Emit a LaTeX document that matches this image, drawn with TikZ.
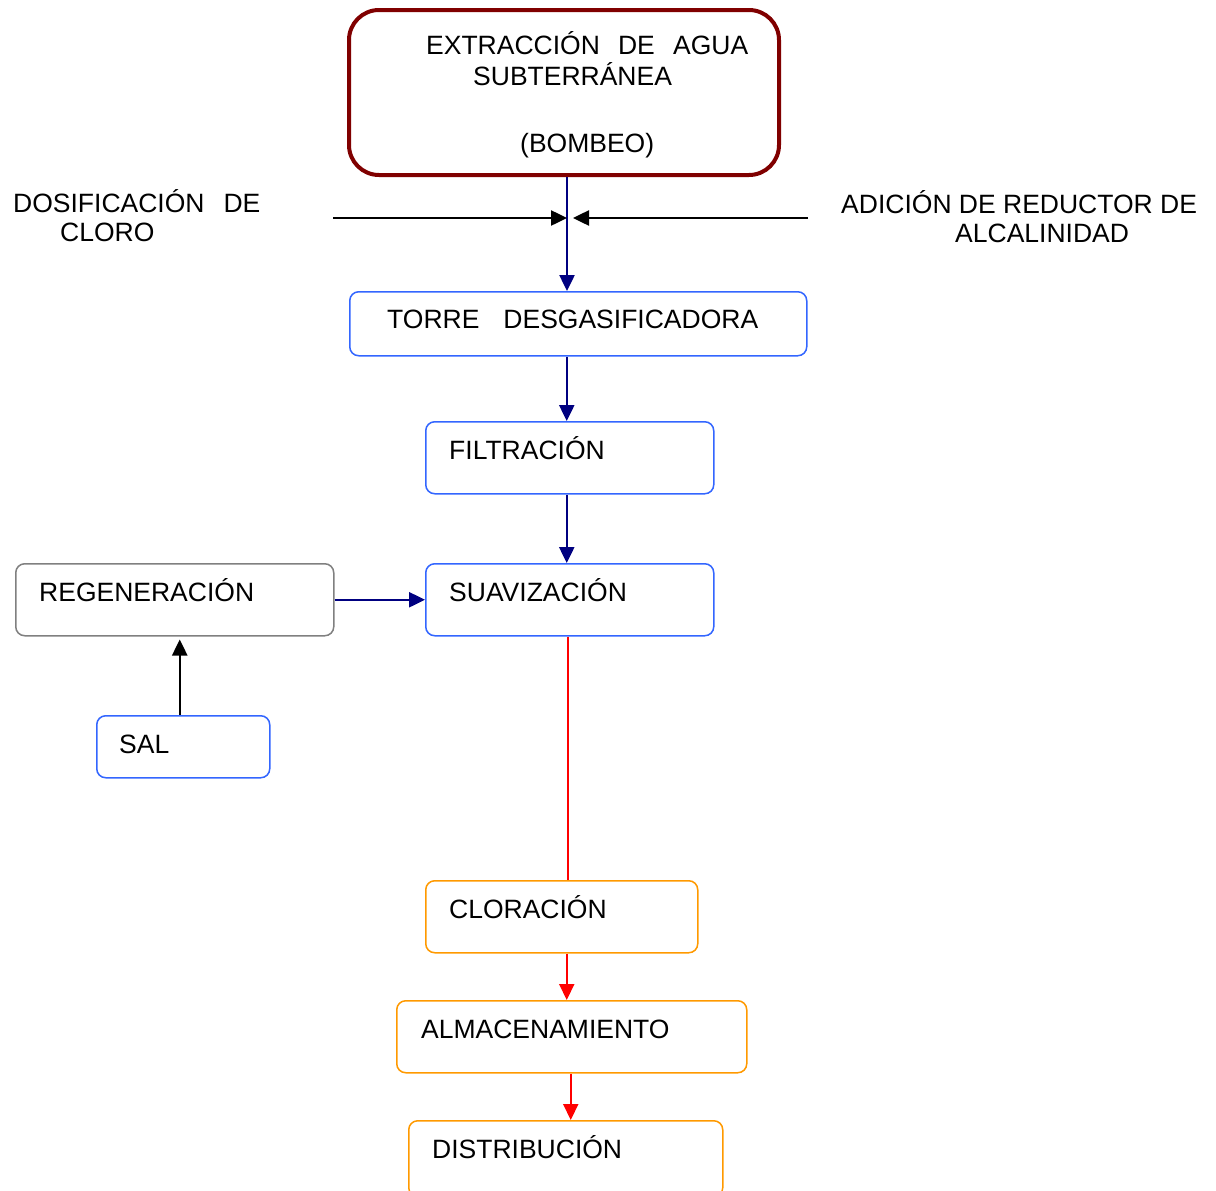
\documentclass[tikz,border=0pt]{standalone}
\usepackage{fontspec}
\setmainfont{Liberation Sans}
\usetikzlibrary{arrows.meta,calc}
\definecolor{navyc}{RGB}{0,0,128}
\definecolor{boxblue}{RGB}{51,102,255}
\definecolor{boxorange}{RGB}{255,153,0}
\definecolor{boxgray}{RGB}{128,128,128}
\definecolor{darkredc}{RGB}{128,0,0}
\begin{document}
\begin{tikzpicture}[x=1pt,y=-1pt,
  box/.style={draw, rounded corners=9pt, line width=1.5pt, anchor=north west, inner sep=0pt},
  bluebox/.style={box, draw=boxblue},
  orangebox/.style={box, draw=boxorange},
  graybox/.style={box, draw=boxgray},
  mainbox/.style={draw=darkredc, rounded corners=30pt, line width=4pt, anchor=north west, inner sep=0pt},
  txt/.style={anchor=base west, inner sep=0pt, font=\fontsize{26.5}{30}\selectfont},
  tipk/.style={-{Triangle[length=16pt,width=15pt]}},
  navyflow/.style={tipk, draw=navyc, fill=navyc, line width=2.5pt},
  blackflow/.style={tipk, draw=black, line width=2.5pt},
  redflow/.style={tipk, draw=red, line width=2pt},
  redline/.style={draw=red, line width=2pt},
]
\useasboundingbox (0,0) rectangle (1216,1191);

% boxes
\node[mainbox, minimum width=430pt, minimum height=165pt] (ext) at (347,8) {};
\node[bluebox, minimum width=457pt, minimum height=64pt] (torre) at (349,291) {};
\node[bluebox, minimum width=288pt, minimum height=72pt] (filt) at (425,421) {};
\node[bluebox, minimum width=288pt, minimum height=72pt] (suav) at (425,563) {};
\node[graybox, minimum width=318pt, minimum height=72pt] (regen) at (15,563) {};
\node[bluebox, minimum width=173pt, minimum height=62pt] (sal) at (96,715) {};
\node[orangebox, minimum width=272pt, minimum height=72pt] (clor) at (425,880) {};
\node[orangebox, minimum width=350pt, minimum height=72pt] (alm) at (396,1000) {};
\node[orangebox, minimum width=314pt, minimum height=76pt] (dist) at (408,1120) {};

% texts
\node[txt] (t1) at (426,54) {\makebox[322pt][s]{EXTRACCIÓN DE AGUA}};
\node[txt] (t2) at (473,85) {SUBTERRÁNEA};
\node[txt] (t3) at (520,152) {(BOMBEO)};
\node[txt] (d1) at (13,212) {DOSIFICACIÓN\hspace{19pt}DE};
\node[txt] (d2) at (60,241) {CLORO};
\node[txt] (a1) at (841,213) {ADICIÓN DE REDUCTOR DE};
\node[txt] (a2) at (955,242) {ALCALINIDAD};
\node[txt] (tt) at (387,328) {TORRE\hspace{24pt}DESGASIFICADORA};
\node[txt] (tf) at (449,459) {FILTRACIÓN};
\node[txt] (ts) at (449,601) {SUAVIZACIÓN};
\node[txt] (tr) at (39,601) {REGENERACIÓN};
\node[txt] (tsal) at (119,753) {SAL};
\node[txt] (tc) at (449,918) {CLORACIÓN};
\node[txt] (ta) at (421,1038) {ALMACENAMIENTO};
\node[txt] (td) at (432,1158) {DISTRIBUCIÓN};

% connectors
\coordinate (j) at (566,218);
\coordinate (dl) at (333,218);
\coordinate (dr) at (808,218);
\draw[navyflow] ([xshift=3pt]ext.south) -- ([xshift=3pt]ext.south |- torre.north);
\draw[blackflow] (dl) -- ([xshift=1pt]j);
\draw[blackflow] (dr) -- ([xshift=7pt]j);
\draw[navyflow] ([xshift=-3pt]filt.north |- torre.south) -- ([xshift=-3pt]filt.north);
\draw[navyflow] ([xshift=-3pt]filt.south) -- ([xshift=-3pt]suav.north);
\draw[navyflow] (regen.east) -- (regen.east -| suav.west);
\draw[blackflow, shorten >=3pt] ([xshift=-3.5pt]sal.north) -- ([xshift=-3.5pt]sal.north |- regen.south);
\draw[redline] ([xshift=-2pt]suav.south) -- ([xshift=-2pt]suav.south |- clor.north);
\draw[redflow] ([xshift=5pt]clor.south) -- ([xshift=5pt]clor.south |- alm.north);
\draw[redflow] ([xshift=-1pt]alm.south) -- ([xshift=-1pt]alm.south |- dist.north);
\end{tikzpicture}
\end{document}
